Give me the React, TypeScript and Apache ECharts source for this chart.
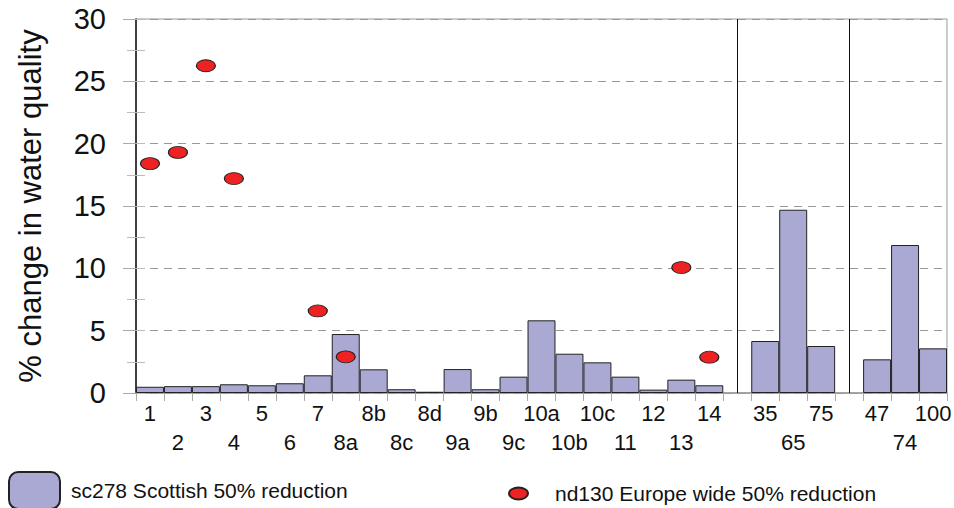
import React, { useEffect, useRef } from "react";
import * as echarts from "echarts";

const categories = ["1","2","3","4","5","6","7","8a","8b","8c","8d","9a","9b","9c","10a","10b","10c","11","12","13","14","","35","65","75","","47","74","100"];
const scottish = [0.5,0.55,0.55,0.7,0.62,0.78,1.42,4.73,1.9,0.3,0.1,1.92,0.3,1.31,5.83,3.15,2.46,1.31,0.27,1.07,0.62,null,4.17,14.7,3.77,null,2.7,11.87,3.58];
const europe = [18.4,19.3,26.25,17.2,null,null,6.58,2.9,null,null,null,null,null,null,null,null,null,null,null,10.06,2.87,null,null,null,null,null,null,null,null];
const separators = [21, 25];
const yTitle = "% change in water quality";
const barName = "sc278 Scottish 50% reduction";
const dotName = "nd130 Europe wide 50% reduction";

const FONT = "Liberation Sans, Arial, sans-serif";
const ELLIPSE = "path://M0,6 A9.5,6 0 1,1 19,6 A9.5,6 0 1,1 0,6 Z";

export default function App() {
  const ref = useRef<HTMLDivElement>(null);
  useEffect(() => {
    const chart = echarts.init(ref.current!, null, { renderer: "svg" });
    chart.setOption({
      animation: false,
      textStyle: { fontFamily: FONT, color: "#111" },
      grid: {
        left: 136, right: 7, top: 19, bottom: 115, show: true, borderColor: "#999", borderWidth: 1,
        containLabel: false, outerBoundsMode: "none",
      },
      legend: [
        {
          data: [barName], left: 8, top: 471, itemWidth: 51, itemHeight: 37, padding: 0,
          textStyle: { fontSize: 21, fontFamily: FONT, color: "#111", padding: [0, 0, 0, 6] },
        },
        {
          data: [{ name: dotName, icon: ELLIPSE }], left: 508, top: 483, itemWidth: 19, itemHeight: 12, padding: 0,
          textStyle: { fontSize: 21, fontFamily: FONT, color: "#111", padding: [0, 0, 0, 22] },
        },
      ],
      xAxis: {
        type: "category",
        data: categories,
        boundaryGap: true,
        axisLine: { lineStyle: { color: "#999", width: 1.5 } },
        axisTick: { show: true, interval: 0, length: 8, lineStyle: { color: "#aaa" } },
        axisLabel: {
          interval: 0, fontSize: 22, fontFamily: FONT, color: "#111", margin: 6, lineHeight: 29,
          formatter: (v: string, i: number) => (i % 2 === 1 ? "\n" + v : v),
        },
        splitLine: { show: false },
      },
      yAxis: [
        {
          type: "value", min: 0, max: 30, interval: 5,
          name: yTitle, nameLocation: "middle", nameRotate: 90, nameGap: 90,
          nameTextStyle: { fontSize: 31, fontFamily: FONT, color: "#111" },
          axisLine: { show: true, lineStyle: { color: "#111", width: 1.5 } },
          axisTick: { show: true, length: 13, lineStyle: { color: "#aaa" } },
          minorTick: { show: true, splitNumber: 2, length: 9, lineStyle: { color: "#bbb" } },
          axisLabel: { fontSize: 29, fontFamily: FONT, color: "#111", margin: 30 },
          splitLine: { show: true, lineStyle: { color: "#999", type: [8, 6], width: 1 } },
        },
        {
          type: "value", min: 0, max: 30, interval: 2.5, position: "left",
          axisLine: { show: false },
          axisTick: { show: true, inside: true, length: 9, lineStyle: { color: "#bbb" } },
          axisLabel: { show: false },
          splitLine: { show: false },
        },
      ],
      series: [
        {
          name: barName, type: "bar", data: scottish, barCategoryGap: "0%",
          itemStyle: { color: "#a9a9d3", borderColor: "#222", borderWidth: 1 },
          markLine: {
            silent: true, symbol: "none", label: { show: false },
            lineStyle: { color: "#111", type: "solid", width: 1 },
            data: separators.map((s) => ({ xAxis: s })),
          },
          z: 2,
        },
        {
          name: dotName, type: "scatter", data: europe, symbol: ELLIPSE, symbolSize: [19, 12], symbolKeepAspect: false,
          itemStyle: { color: "#ee2222", borderColor: "#222", borderWidth: 1, opacity: 1 },
          z: 5,
        },
      ],
    });
    return () => chart.dispose();
  }, []);
  return <div ref={ref} style={{ width: 954, height: 508, position: "absolute", left: 0, top: 0 }} />;
}
